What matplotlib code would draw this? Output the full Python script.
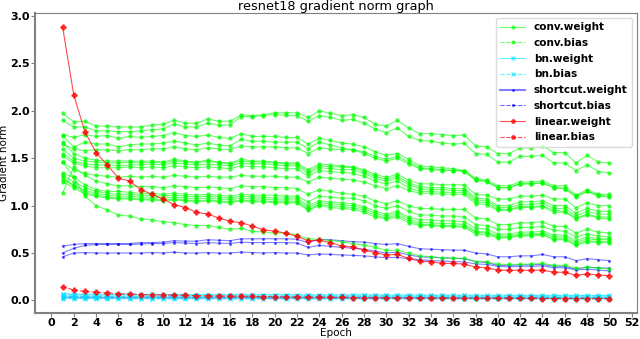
import matplotlib
matplotlib.use("Agg")
import matplotlib.pyplot as plt
from matplotlib.lines import Line2D

epochs = list(range(1, 51))

# conv weights (17 layers)
conv_weight = [
    [1.975, 1.886, 1.89, 1.84, 1.84, 1.83, 1.83, 1.83, 1.85, 1.86,
     1.90, 1.87, 1.87, 1.915, 1.89, 1.89, 1.957, 1.95, 1.96, 1.98,
     1.98, 1.98, 1.93, 2.00, 1.975, 1.95, 1.96, 1.93, 1.86, 1.84,
     1.90, 1.82, 1.76, 1.76, 1.75, 1.74, 1.745, 1.63, 1.62, 1.55,
     1.55, 1.61, 1.61, 1.63, 1.56, 1.56, 1.45, 1.53, 1.46, 1.45],
    [1.90, 1.83, 1.83, 1.79, 1.79, 1.78, 1.78, 1.79, 1.80, 1.81,
     1.86, 1.83, 1.83, 1.87, 1.85, 1.85, 1.94, 1.94, 1.95, 1.96,
     1.955, 1.95, 1.89, 1.95, 1.93, 1.90, 1.91, 1.87, 1.81, 1.77,
     1.82, 1.73, 1.69, 1.68, 1.66, 1.65, 1.656, 1.55, 1.54, 1.46,
     1.46, 1.52, 1.52, 1.53, 1.45, 1.45, 1.37, 1.43, 1.36, 1.345],
    [1.75, 1.72, 1.75, 1.73, 1.74, 1.71, 1.73, 1.72, 1.73, 1.74,
     1.77, 1.74, 1.73, 1.745, 1.72, 1.71, 1.76, 1.73, 1.73, 1.73,
     1.72, 1.72, 1.65, 1.71, 1.69, 1.66, 1.65, 1.62, 1.57, 1.53,
     1.55, 1.49, 1.42, 1.41, 1.40, 1.39, 1.37, 1.29, 1.27, 1.21,
     1.21, 1.25, 1.25, 1.26, 1.21, 1.21, 1.11, 1.17, 1.12, 1.12],
    [1.74, 1.62, 1.67, 1.65, 1.65, 1.62, 1.64, 1.65, 1.65, 1.66,
     1.68, 1.66, 1.64, 1.66, 1.64, 1.63, 1.70, 1.68, 1.68, 1.67,
     1.67, 1.67, 1.60, 1.67, 1.64, 1.61, 1.59, 1.57, 1.52, 1.49,
     1.52, 1.46, 1.40, 1.39, 1.38, 1.37, 1.36, 1.27, 1.25, 1.19,
     1.19, 1.23, 1.23, 1.24, 1.19, 1.18, 1.09, 1.15, 1.10, 1.09],
    [1.65, 1.60, 1.58, 1.59, 1.59, 1.58, 1.59, 1.59, 1.60, 1.60,
     1.62, 1.60, 1.59, 1.61, 1.60, 1.59, 1.63, 1.62, 1.62, 1.62,
     1.61, 1.61, 1.55, 1.61, 1.60, 1.59, 1.59, 1.55, 1.50, 1.47,
     1.50, 1.44, 1.39, 1.38, 1.37, 1.37, 1.37, 1.27, 1.26, 1.19,
     1.19, 1.23, 1.23, 1.24, 1.19, 1.18, 1.10, 1.15, 1.11, 1.10],
    [1.667, 1.55, 1.50, 1.48, 1.47, 1.47, 1.47, 1.47, 1.47, 1.46,
     1.49, 1.47, 1.46, 1.48, 1.46, 1.45, 1.49, 1.47, 1.47, 1.46,
     1.45, 1.45, 1.38, 1.44, 1.43, 1.42, 1.41, 1.38, 1.33, 1.30,
     1.33, 1.27, 1.23, 1.23, 1.22, 1.22, 1.22, 1.12, 1.11, 1.07,
     1.07, 1.10, 1.10, 1.11, 1.07, 1.07, 0.98, 1.03, 1.00, 1.00],
    [1.60, 1.50, 1.47, 1.46, 1.45, 1.45, 1.46, 1.45, 1.46, 1.45,
     1.47, 1.46, 1.45, 1.47, 1.45, 1.44, 1.47, 1.46, 1.46, 1.45,
     1.44, 1.44, 1.36, 1.42, 1.41, 1.41, 1.40, 1.36, 1.31, 1.28,
     1.31, 1.24, 1.20, 1.19, 1.19, 1.18, 1.18, 1.08, 1.07, 1.00,
     1.00, 1.04, 1.04, 1.05, 1.00, 1.00, 0.92, 0.97, 0.94, 0.94],
    [1.55, 1.47, 1.44, 1.43, 1.43, 1.42, 1.43, 1.43, 1.44, 1.43,
     1.45, 1.44, 1.43, 1.44, 1.43, 1.42, 1.45, 1.44, 1.44, 1.43,
     1.42, 1.42, 1.34, 1.40, 1.39, 1.38, 1.38, 1.34, 1.29, 1.26,
     1.29, 1.22, 1.18, 1.17, 1.17, 1.16, 1.16, 1.06, 1.05, 0.98,
     0.98, 1.01, 1.01, 1.03, 0.97, 0.97, 0.89, 0.94, 0.91, 0.91],
    [1.52, 1.45, 1.42, 1.40, 1.40, 1.40, 1.41, 1.40, 1.41, 1.40,
     1.42, 1.41, 1.40, 1.41, 1.40, 1.39, 1.42, 1.41, 1.41, 1.40,
     1.39, 1.39, 1.31, 1.37, 1.36, 1.35, 1.34, 1.31, 1.26, 1.23,
     1.26, 1.19, 1.15, 1.15, 1.14, 1.14, 1.14, 1.04, 1.03, 0.96,
     0.96, 0.99, 0.99, 1.00, 0.95, 0.94, 0.87, 0.91, 0.88, 0.88],
    [1.46, 1.38, 1.34, 1.32, 1.31, 1.30, 1.31, 1.30, 1.31, 1.30,
     1.32, 1.31, 1.30, 1.31, 1.30, 1.30, 1.32, 1.31, 1.31, 1.31,
     1.30, 1.30, 1.25, 1.30, 1.29, 1.28, 1.27, 1.25, 1.21, 1.18,
     1.21, 1.16, 1.13, 1.13, 1.12, 1.12, 1.12, 1.02, 1.01, 0.95,
     0.95, 0.98, 0.98, 0.99, 0.93, 0.93, 0.86, 0.90, 0.87, 0.86],
    [1.13, 1.41, 1.32, 1.26, 1.23, 1.21, 1.21, 1.20, 1.20, 1.19,
     1.21, 1.20, 1.19, 1.195, 1.19, 1.18, 1.21, 1.20, 1.20, 1.19,
     1.19, 1.18, 1.12, 1.17, 1.15, 1.13, 1.12, 1.10, 1.05, 1.02,
     1.05, 1.00, 0.97, 0.97, 0.96, 0.96, 0.96, 0.87, 0.86, 0.80,
     0.80, 0.82, 0.82, 0.83, 0.78, 0.78, 0.71, 0.75, 0.72, 0.71],
    [1.34, 1.30, 1.22, 1.17, 1.15, 1.15, 1.14, 1.13, 1.13, 1.12,
     1.13, 1.12, 1.11, 1.12, 1.11, 1.10, 1.12, 1.11, 1.11, 1.11,
     1.10, 1.10, 1.04, 1.10, 1.09, 1.08, 1.08, 1.05, 1.00, 0.97,
     1.00, 0.94, 0.90, 0.90, 0.89, 0.89, 0.88, 0.80, 0.79, 0.75,
     0.75, 0.77, 0.77, 0.78, 0.74, 0.73, 0.67, 0.70, 0.68, 0.67],
    [1.32, 1.25, 1.19, 1.15, 1.13, 1.12, 1.12, 1.11, 1.11, 1.10,
     1.11, 1.10, 1.09, 1.10, 1.09, 1.08, 1.10, 1.09, 1.09, 1.08,
     1.08, 1.08, 1.00, 1.05, 1.04, 1.03, 1.02, 0.99, 0.94, 0.91,
     0.94, 0.88, 0.85, 0.85, 0.84, 0.84, 0.83, 0.76, 0.75, 0.70,
     0.70, 0.72, 0.72, 0.73, 0.69, 0.69, 0.63, 0.67, 0.65, 0.65],
    [1.27, 1.22, 1.16, 1.13, 1.11, 1.10, 1.10, 1.09, 1.09, 1.08,
     1.09, 1.08, 1.07, 1.08, 1.07, 1.06, 1.08, 1.07, 1.07, 1.06,
     1.06, 1.06, 0.98, 1.03, 1.02, 1.01, 1.00, 0.97, 0.92, 0.89,
     0.92, 0.86, 0.82, 0.82, 0.81, 0.81, 0.80, 0.73, 0.72, 0.68,
     0.68, 0.70, 0.70, 0.71, 0.67, 0.67, 0.61, 0.65, 0.64, 0.64],
    [1.30, 1.21, 1.14, 1.11, 1.09, 1.08, 1.08, 1.07, 1.07, 1.06,
     1.07, 1.06, 1.05, 1.06, 1.05, 1.04, 1.06, 1.05, 1.05, 1.04,
     1.04, 1.04, 0.96, 1.01, 1.00, 0.99, 0.98, 0.95, 0.90, 0.87,
     0.90, 0.84, 0.80, 0.80, 0.79, 0.79, 0.78, 0.72, 0.71, 0.67,
     0.67, 0.69, 0.69, 0.70, 0.65, 0.65, 0.59, 0.63, 0.62, 0.62],
    [1.25, 1.19, 1.12, 1.10, 1.08, 1.07, 1.07, 1.06, 1.06, 1.05,
     1.06, 1.05, 1.04, 1.05, 1.04, 1.03, 1.05, 1.04, 1.04, 1.03,
     1.03, 1.03, 0.95, 1.00, 0.98, 0.97, 0.96, 0.93, 0.88, 0.86,
     0.88, 0.82, 0.79, 0.79, 0.78, 0.78, 0.77, 0.70, 0.69, 0.66,
     0.66, 0.68, 0.68, 0.69, 0.64, 0.64, 0.58, 0.62, 0.61, 0.61],
    [1.46, 1.30, 1.10, 1.00, 0.955, 0.90, 0.89, 0.86, 0.85, 0.83,
     0.82, 0.80, 0.79, 0.79, 0.77, 0.75, 0.76, 0.73, 0.72, 0.71,
     0.71, 0.69, 0.65, 0.645, 0.63, 0.62, 0.60, 0.585, 0.56, 0.528,
     0.53, 0.50, 0.47, 0.46, 0.45, 0.445, 0.445, 0.41, 0.41, 0.38,
     0.38, 0.38, 0.385, 0.39, 0.37, 0.37, 0.34, 0.35, 0.34, 0.33],
]

bn_weight = [
    [0.072, 0.068, 0.066, 0.065, 0.065, 0.064, 0.064, 0.063, 0.063, 0.063,
     0.062, 0.062, 0.062, 0.061, 0.061, 0.061, 0.061, 0.060, 0.060, 0.060,
     0.060, 0.059, 0.059, 0.059, 0.059, 0.058, 0.058, 0.058, 0.058, 0.057,
     0.057, 0.057, 0.057, 0.056, 0.056, 0.056, 0.056, 0.055, 0.055, 0.055,
     0.055, 0.055, 0.054, 0.054, 0.054, 0.054, 0.053, 0.053, 0.053, 0.053],
    [0.050, 0.048, 0.047, 0.047, 0.046, 0.046, 0.046, 0.045, 0.045, 0.045,
     0.045, 0.045, 0.044, 0.044, 0.044, 0.044, 0.044, 0.044, 0.043, 0.043,
     0.043, 0.043, 0.043, 0.043, 0.042, 0.042, 0.042, 0.042, 0.042, 0.042,
     0.041, 0.041, 0.041, 0.041, 0.041, 0.041, 0.040, 0.040, 0.040, 0.040,
     0.040, 0.040, 0.040, 0.039, 0.039, 0.039, 0.039, 0.039, 0.039, 0.039],
    [0.030, 0.028, 0.027, 0.027, 0.026, 0.026, 0.026, 0.026, 0.025, 0.025,
     0.025, 0.025, 0.025, 0.025, 0.024, 0.024, 0.024, 0.024, 0.024, 0.024,
     0.024, 0.023, 0.023, 0.023, 0.023, 0.023, 0.023, 0.023, 0.023, 0.022,
     0.022, 0.022, 0.022, 0.022, 0.022, 0.022, 0.022, 0.021, 0.021, 0.021,
     0.021, 0.021, 0.021, 0.021, 0.021, 0.020, 0.020, 0.020, 0.020, 0.020],
]

bn_bias = [
    [0.064, 0.061, 0.060, 0.059, 0.059, 0.058, 0.058, 0.058, 0.057, 0.057,
     0.057, 0.057, 0.056, 0.056, 0.056, 0.056, 0.056, 0.055, 0.055, 0.055,
     0.055, 0.055, 0.054, 0.054, 0.054, 0.054, 0.054, 0.053, 0.053, 0.053,
     0.053, 0.053, 0.052, 0.052, 0.052, 0.052, 0.052, 0.051, 0.051, 0.051,
     0.051, 0.051, 0.051, 0.050, 0.050, 0.050, 0.050, 0.050, 0.050, 0.050],
    [0.038, 0.036, 0.036, 0.035, 0.035, 0.035, 0.034, 0.034, 0.034, 0.034,
     0.034, 0.034, 0.033, 0.033, 0.033, 0.033, 0.033, 0.033, 0.033, 0.032,
     0.032, 0.032, 0.032, 0.032, 0.032, 0.032, 0.032, 0.031, 0.031, 0.031,
     0.031, 0.031, 0.031, 0.031, 0.031, 0.030, 0.030, 0.030, 0.030, 0.030,
     0.030, 0.030, 0.030, 0.030, 0.030, 0.029, 0.029, 0.029, 0.029, 0.029],
    [0.018, 0.017, 0.017, 0.016, 0.016, 0.016, 0.016, 0.016, 0.016, 0.015,
     0.015, 0.015, 0.015, 0.015, 0.015, 0.015, 0.015, 0.015, 0.015, 0.014,
     0.014, 0.014, 0.014, 0.014, 0.014, 0.014, 0.014, 0.014, 0.014, 0.014,
     0.014, 0.013, 0.013, 0.013, 0.013, 0.013, 0.013, 0.013, 0.013, 0.013,
     0.013, 0.013, 0.013, 0.013, 0.012, 0.012, 0.012, 0.012, 0.012, 0.012],
]

shortcut_weight = [
    [0.574, 0.59, 0.60, 0.60, 0.60, 0.60, 0.60, 0.61, 0.61, 0.615,
     0.63, 0.625, 0.625, 0.64, 0.635, 0.63, 0.65, 0.65, 0.65, 0.65,
     0.65, 0.645, 0.61, 0.645, 0.64, 0.63, 0.62, 0.615, 0.60, 0.59,
     0.60, 0.57, 0.545, 0.54, 0.535, 0.53, 0.53, 0.50, 0.49, 0.46,
     0.46, 0.47, 0.47, 0.485, 0.46, 0.46, 0.42, 0.44, 0.43, 0.42],
    [0.50, 0.55, 0.58, 0.59, 0.59, 0.59, 0.59, 0.595, 0.60, 0.60,
     0.61, 0.605, 0.60, 0.61, 0.605, 0.60, 0.615, 0.61, 0.61, 0.61,
     0.61, 0.605, 0.56, 0.58, 0.57, 0.56, 0.55, 0.54, 0.52, 0.50,
     0.51, 0.48, 0.46, 0.455, 0.45, 0.445, 0.44, 0.41, 0.40, 0.37,
     0.37, 0.375, 0.375, 0.38, 0.36, 0.36, 0.33, 0.35, 0.345, 0.34],
    [0.46, 0.50, 0.505, 0.50, 0.50, 0.50, 0.50, 0.50, 0.505, 0.50,
     0.51, 0.50, 0.50, 0.505, 0.50, 0.50, 0.51, 0.505, 0.50, 0.505,
     0.50, 0.50, 0.48, 0.49, 0.485, 0.48, 0.475, 0.47, 0.46, 0.45,
     0.455, 0.44, 0.43, 0.42, 0.415, 0.41, 0.405, 0.385, 0.38, 0.36,
     0.355, 0.36, 0.36, 0.365, 0.345, 0.345, 0.32, 0.33, 0.32, 0.31],
    [0.030, 0.028, 0.027, 0.027, 0.027, 0.026, 0.026, 0.026, 0.026, 0.026,
     0.025, 0.025, 0.025, 0.025, 0.025, 0.025, 0.025, 0.025, 0.024, 0.024,
     0.024, 0.024, 0.024, 0.024, 0.024, 0.024, 0.023, 0.023, 0.023, 0.023,
     0.023, 0.023, 0.023, 0.023, 0.022, 0.022, 0.022, 0.022, 0.022, 0.022,
     0.022, 0.022, 0.022, 0.021, 0.021, 0.021, 0.021, 0.021, 0.021, 0.021],
]

shortcut_bias = [
    [0.040, 0.038, 0.037, 0.037, 0.036, 0.036, 0.036, 0.036, 0.035, 0.035,
     0.035, 0.035, 0.035, 0.035, 0.034, 0.034, 0.034, 0.034, 0.034, 0.034,
     0.034, 0.033, 0.033, 0.033, 0.033, 0.033, 0.033, 0.033, 0.033, 0.032,
     0.032, 0.032, 0.032, 0.032, 0.032, 0.032, 0.032, 0.031, 0.031, 0.031,
     0.031, 0.031, 0.031, 0.031, 0.031, 0.030, 0.030, 0.030, 0.030, 0.030],
]

linear_weight = [
    2.89, 2.17, 1.78, 1.56, 1.43, 1.29, 1.26, 1.17, 1.12, 1.07,
    1.01, 0.98, 0.93, 0.91, 0.87, 0.835, 0.82, 0.785, 0.745, 0.73,
    0.71, 0.675, 0.63, 0.635, 0.61, 0.574, 0.564, 0.532, 0.504, 0.479,
    0.486, 0.443, 0.415, 0.408, 0.39, 0.39, 0.383, 0.351, 0.344, 0.319,
    0.316, 0.319, 0.316, 0.319, 0.297, 0.297, 0.266, 0.28, 0.266, 0.262,
]

linear_bias = [
    0.145, 0.11, 0.095, 0.085, 0.08, 0.07, 0.068, 0.062, 0.06, 0.058,
    0.055, 0.053, 0.05, 0.048, 0.046, 0.045, 0.043, 0.042, 0.04, 0.038,
    0.037, 0.036, 0.034, 0.033, 0.032, 0.031, 0.03, 0.029, 0.028, 0.028,
    0.027, 0.026, 0.025, 0.025, 0.024, 0.024, 0.023, 0.023, 0.022, 0.022,
    0.021, 0.021, 0.021, 0.02, 0.02, 0.02, 0.02, 0.019, 0.019, 0.019,
]

fig, ax = plt.subplots(figsize=(6.4, 3.39), dpi=100)
fig.subplots_adjust(left=0.055, right=0.995, top=0.962, bottom=0.077)

alpha = 0.5
cyan = '#00e0ff'
for vals in shortcut_bias:
    ax.plot(epochs, vals, color='blue', ls='--', marker='.', markersize=2.5, lw=0.8, alpha=alpha)
for vals in shortcut_weight:
    ax.plot(epochs, vals, color='blue', marker='.', markersize=2.5, lw=0.8, alpha=alpha)
for vals in bn_weight:
    ax.plot(epochs, vals, color=cyan, marker='x', markersize=3, lw=0.8, alpha=0.6)
for vals in bn_bias:
    ax.plot(epochs, vals, color=cyan, ls='--', marker='x', markersize=3, lw=0.8, alpha=0.6)
for vals in conv_weight:
    ax.plot(epochs, vals, color='lime', marker='o', markersize=2.2, lw=0.8, alpha=0.6)
ax.plot(epochs, linear_weight, color='red', marker='P', markersize=3.5, lw=0.8, alpha=0.7)
ax.plot(epochs, linear_bias, color='red', ls='--', marker='P', markersize=3.5, lw=0.8, alpha=0.7)

ax.set_title("resnet18 gradient norm graph", fontsize=9.3, pad=2)
ax.set_xlabel("Epoch", fontsize=7.5, labelpad=0)
ax.set_ylabel("Gradient norm", fontsize=7.5, labelpad=1)
ax.set_xticks(range(0, 53, 2))
ax.set_yticks([0.0, 0.5, 1.0, 1.5, 2.0, 2.5, 3.0])
ax.tick_params(labelsize=8, pad=1, color='gray', length=3)
for lbl in ax.get_xticklabels() + ax.get_yticklabels():
    lbl.set_fontweight('bold')
for side in ['left', 'bottom']:
    ax.spines[side].set_color('gray')
    ax.spines[side].set_linewidth(1.5)
for side in ['top', 'right']:
    ax.spines[side].set_color('gray')

handles = [
    Line2D([], [], color='lime', marker='o', markersize=2, lw=0.8, alpha=0.6),
    Line2D([], [], color='lime', ls='--', marker='o', markersize=2, lw=0.8, alpha=0.6),
    Line2D([], [], color=cyan, marker='x', markersize=3, lw=0.8, alpha=0.6),
    Line2D([], [], color=cyan, ls='--', marker='x', markersize=3, lw=0.8, alpha=0.6),
    Line2D([], [], color='blue', marker='.', markersize=2.5, lw=1.5, alpha=0.5),
    Line2D([], [], color='blue', ls='--', marker='.', markersize=2.5, lw=0.8, alpha=0.6),
    Line2D([], [], color='red', marker='o', markersize=2.5, lw=0.8, alpha=0.7),
    Line2D([], [], color='red', ls='--', marker='o', markersize=2.5, lw=0.8, alpha=0.7),
]
labels = ['conv.weight', 'conv.bias', 'bn.weight', 'bn.bias',
          'shortcut.weight', 'shortcut.bias', 'linear.weight', 'linear.bias']
ax.legend(handles, labels, loc='upper right', prop={'weight': 'bold', 'size': 7.5},
          handlelength=2.4, labelspacing=0.55, borderpad=0.4, edgecolor='lightgray')

plt.savefig("out.png", dpi=100)
